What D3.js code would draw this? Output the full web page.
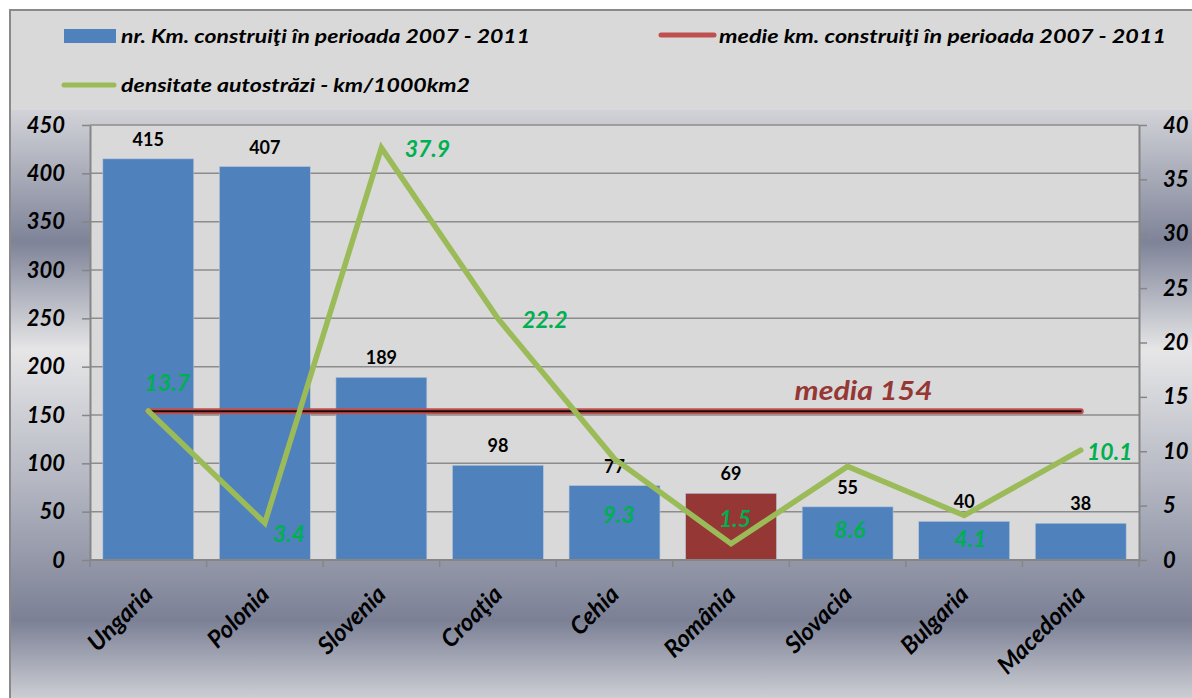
<!DOCTYPE html>
<meta charset="utf-8">
<style>
  body { margin: 0; background: #fff; }
  svg text { font-family: Lato, "Open Sans", sans-serif; }
  .tick line, .domain { stroke: #868686; }
</style>
<svg width="1192" height="698"></svg>
<script src="https://d3js.org/d3.v7.min.js"></script>
<script>

// data
var categories = ["Ungaria", "Polonia", "Slovenia", "Croaţia", "Cehia", "România", "Slovacia", "Bulgaria", "Macedonia"];
var kmBuilt = [415, 407, 189, 98, 77, 69, 55, 40, 38];
var density = [13.7, 3.4, 37.9, 22.2, 9.3, 1.5, 8.6, 4.1, 10.1];
var kmMean = 154;
var leftTicks = [0, 50, 100, 150, 200, 250, 300, 350, 400, 450];
var rightTicks = [0, 5, 10, 15, 20, 25, 30, 35, 40];
var highlight = "România";
var legendBars = "nr. Km. construiţi în perioada 2007 - 2011";
var legendMean = "medie km. construiţi în perioada 2007 - 2011";
var legendDensity = "densitate autostrăzi - km/1000km2";
var meanLabel = "media 154";

// where the density labels sit relative to their point (label centre)
var labelDx = [19, 24, 46, 47, 4, 4, 2, 6, 29];
var labelDy = [-28, 11, 1, 1, 56, -25, 63, 23, 2];

var svg = d3.select("svg"),
    plot = {left: 90, right: 1139, top: 125, bottom: 560};

var defs = svg.append("defs");
var grad = defs.append("linearGradient")
    .attr("id", "metal")
    .attr("x1", 0).attr("y1", 0).attr("x2", 0).attr("y2", 1);
[[0, "#d2d3d8"], [0.22, "#7e8398"], [0.40, "#e6e6e7"], [0.62, "#b4b7c2"], [0.85, "#7b8095"], [1, "#d9dadd"]]
  .forEach(function(s) {
    grad.append("stop").attr("offset", s[0]).attr("stop-color", s[1]);
  });

// chart background
svg.append("rect")
    .attr("x", 10).attr("y", 110).attr("width", 1200).attr("height", 600)
    .attr("fill", "url(#metal)");
svg.append("rect")
    .attr("x", 10).attr("y", 10).attr("width", 1200).attr("height", 100)
    .attr("fill", "#d9d9d9");
svg.append("rect")
    .attr("x", 10).attr("y", 10).attr("width", 1200).attr("height", 700)
    .attr("fill", "none").attr("stroke", "#8a8a8a").attr("stroke-width", 2);

// plot area
svg.append("rect")
    .attr("x", plot.left).attr("y", plot.top)
    .attr("width", plot.right - plot.left).attr("height", plot.bottom - plot.top)
    .attr("fill", "#d9d9d9");

var x = d3.scaleBand().domain(categories).range([plot.left, plot.right]).padding(0),
    yLeft = d3.scaleLinear().domain([0, 450]).range([plot.bottom, plot.top]),
    yRight = d3.scaleLinear().domain([0, 40]).range([plot.bottom, plot.top]);

var barW = x.bandwidth() * 0.78;
function cx(c) { return x(c) + x.bandwidth() / 2; }

// gridlines
svg.append("g")
    .selectAll("line")
    .data(leftTicks.slice(1))
    .enter().append("line")
    .attr("x1", plot.left).attr("x2", plot.right)
    .attr("y1", function(d) { return yLeft(d); })
    .attr("y2", function(d) { return yLeft(d); })
    .attr("stroke", "#8c8c8c").attr("stroke-width", 1.5);

// bars
svg.append("g")
    .selectAll("rect")
    .data(categories)
    .enter().append("rect")
    .attr("x", function(c) { return cx(c) - barW / 2; })
    .attr("y", function(c, i) { return yLeft(kmBuilt[i]); })
    .attr("width", barW)
    .attr("height", function(c, i) { return plot.bottom - yLeft(kmBuilt[i]); })
    .attr("fill", function(c) { return c === highlight ? "#953735" : "#4f81bd"; })
    .attr("stroke", "#b8c6da").attr("stroke-width", 0.6);

// bar values
svg.append("g")
    .selectAll("text")
    .data(categories)
    .enter().append("text")
    .attr("x", function(c) { return cx(c); })
    .attr("y", function(c, i) { return yLeft(kmBuilt[i]) - 13; })
    .attr("text-anchor", "middle")
    .attr("font-size", 18).attr("font-weight", "bold")
    .attr("fill", "#000")
    .text(function(c, i) { return kmBuilt[i]; });

// axes
var axL = svg.append("g")
    .attr("transform", "translate(" + plot.left + ",0)")
    .call(d3.axisLeft(yLeft).tickValues(leftTicks).tickSize(8).tickPadding(17).tickSizeOuter(0));
var axR = svg.append("g")
    .attr("transform", "translate(" + plot.right + ",0)")
    .call(d3.axisRight(yRight).tickValues(rightTicks).tickSize(8).tickPadding(16).tickSizeOuter(0));
[axL, axR].forEach(function(ax) {
  ax.select(".domain").attr("stroke-width", 2);
  ax.selectAll(".tick line").attr("stroke-width", 1.5);
  ax.selectAll("text")
      .attr("font-size", 22).attr("font-weight", "bold").attr("font-style", "italic")
      .attr("font-family", "Lato, sans-serif").attr("fill", "#000");
});

// bottom axis: ticks on the category boundaries
var axB = svg.append("g");
axB.append("line")
    .attr("x1", plot.left).attr("x2", plot.right)
    .attr("y1", plot.bottom).attr("y2", plot.bottom)
    .attr("stroke", "#868686").attr("stroke-width", 2);
axB.selectAll(".btick")
    .data(categories.concat(["end"]))
    .enter().append("line")
    .attr("x1", function(c) { return c === "end" ? plot.right : x(c); })
    .attr("x2", function(c) { return c === "end" ? plot.right : x(c); })
    .attr("y1", plot.bottom).attr("y2", plot.bottom + 7)
    .attr("stroke", "#868686").attr("stroke-width", 1.5);
axB.selectAll("text")
    .data(categories)
    .enter().append("text")
    .attr("transform", function(c) { return "translate(" + (cx(c) + 6) + "," + (plot.bottom + 36) + ") rotate(-45)"; })
    .attr("text-anchor", "end")
    .attr("font-size", 24).attr("font-weight", "bold").attr("font-style", "italic")
    .attr("fill", "#000")
    .text(function(c) { return c; });

// mean line
var meanG = svg.append("g");
[["#c0504d", 6], ["#1a0a0a", 2]].forEach(function(s) {
  meanG.append("line")
      .attr("x1", cx(categories[0])).attr("x2", cx(categories[categories.length - 1]))
      .attr("y1", yLeft(kmMean)).attr("y2", yLeft(kmMean))
      .attr("stroke", s[0]).attr("stroke-width", s[1]).attr("stroke-linecap", "round");
});
meanG.append("text")
    .attr("x", cx("Slovacia") - 53)
    .attr("y", yLeft(kmMean) - 11)
    .attr("textLength", 138).attr("lengthAdjust", "spacingAndGlyphs")
    .attr("font-size", 27).attr("font-weight", "bold").attr("font-style", "italic")
    .attr("fill", "#953735")
    .text(meanLabel);

// density line
var line = d3.line()
    .x(function(c) { return cx(c); })
    .y(function(c, i) { return yRight(density[i]); });
svg.append("path")
    .datum(categories)
    .attr("d", line)
    .attr("fill", "none")
    .attr("stroke", "#9bbb59").attr("stroke-width", 5.5)
    .attr("stroke-linejoin", "miter").attr("stroke-linecap", "round");

svg.append("g")
    .selectAll("text")
    .data(categories)
    .enter().append("text")
    .attr("x", function(c, i) { return cx(c) + labelDx[i]; })
    .attr("y", function(c, i) { return yRight(density[i]) + labelDy[i]; })
    .attr("dy", "0.36em")
    .attr("text-anchor", "middle")
    .attr("font-size", 23).attr("font-weight", "bold").attr("font-style", "italic")
    .attr("fill", "#00b050")
    .text(function(c, i) { return density[i].toFixed(1); });

// legend
var leg = svg.append("g").attr("font-size", 19).attr("font-weight", "bold").attr("font-style", "italic")
    .attr("lengthAdjust", "spacingAndGlyphs");
leg.append("rect").attr("x", 64).attr("y", 29).attr("width", 52).attr("height", 14).attr("fill", "#4f81bd");
leg.append("text").attr("x", 121).attr("y", 43).attr("textLength", 409)
    .attr("lengthAdjust", "spacingAndGlyphs").text(legendBars);
leg.append("line").attr("x1", 661).attr("x2", 714).attr("y1", 35).attr("y2", 35)
    .attr("stroke", "#c0504d").attr("stroke-width", 5).attr("stroke-linecap", "round");
leg.append("text").attr("x", 719).attr("y", 43).attr("textLength", 447)
    .attr("lengthAdjust", "spacingAndGlyphs").text(legendMean);
leg.append("line").attr("x1", 64).attr("x2", 114).attr("y1", 85).attr("y2", 85)
    .attr("stroke", "#9bbb59").attr("stroke-width", 5).attr("stroke-linecap", "round");
leg.append("text").attr("x", 121).attr("y", 92).attr("textLength", 349)
    .attr("lengthAdjust", "spacingAndGlyphs").text(legendDensity);

</script>
